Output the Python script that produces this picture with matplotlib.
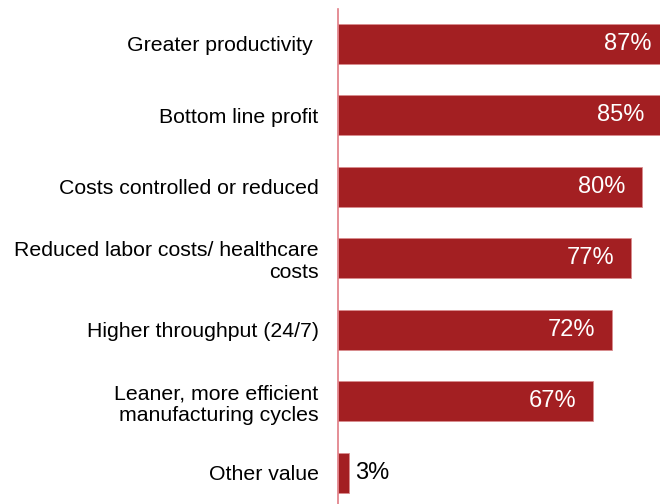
import matplotlib
matplotlib.use("Agg")
import matplotlib.pyplot as plt

categories = [
    "Greater productivity ",
    "Bottom line profit",
    "Costs controlled or reduced",
    "Reduced labor costs/ healthcare\ncosts",
    "Higher throughput (24/7)",
    "Leaner, more efficient\nmanufacturing cycles",
    "Other value",
]
values = [87, 85, 80, 77, 72, 67, 3]
value_labels = ["87%", "85%", "80%", "77%", "72%", "67%", "3%"]

plt.rcParams["font.family"] = ["Liberation Sans", "DejaVu Sans"]

W, H = 660, 504
fig = plt.figure(figsize=(W / 100, H / 100), dpi=100)
ax_left = 338 / W
ax_top = 9 / H
ax_bottom = -3.5 / H
ax = fig.add_axes([ax_left, ax_bottom, 1 - ax_left, 1 - ax_top - ax_bottom])

bar_color = "#A31F22"
ax.barh(range(len(values)), values, height=0.56, color=bar_color,
        edgecolor="#D98C8E", linewidth=0.6, zorder=2)

ax.set_ylim(len(values) - 0.51, -0.49)
px_per_unit = 3.8
ax.set_xlim(0, (W - 338) / px_per_unit)

for i, (v, lab) in enumerate(zip(values, value_labels)):
    if v > 20:
        ax.annotate(lab, xy=(v, i), xytext=(-12, 0), textcoords="offset points",
                    ha="right", va="center", color="white", fontsize=17,
                    annotation_clip=False)
    else:
        ax.annotate(lab, xy=(v, i), xytext=(4, 0), textcoords="offset points",
                    ha="left", va="center", color="black", fontsize=17)

ax.set_yticks(range(len(values)))
ax.set_yticklabels(categories, fontsize=15.3, multialignment="right")
ax.tick_params(axis="y", length=0, pad=14)
ax.set_xticks([])

for s in ["top", "right", "bottom"]:
    ax.spines[s].set_visible(False)
ax.spines["left"].set_color("#E07C84")
ax.spines["left"].set_linewidth(1.2)

fig.savefig("out.png", dpi=100)
